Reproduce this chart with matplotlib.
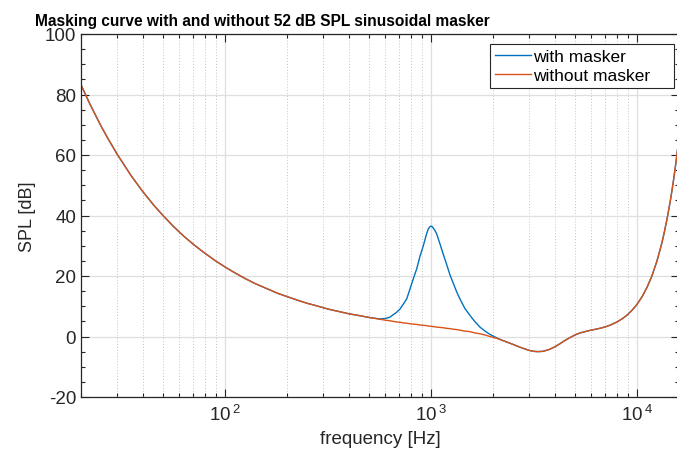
import matplotlib
matplotlib.use("Agg")
import matplotlib.pyplot as plt
from matplotlib.ticker import FixedLocator, FixedFormatter, MultipleLocator, NullFormatter

plt.rcParams["font.family"] = ["Liberation Sans", "DejaVu Sans"]
plt.rcParams["mathtext.fontset"] = "custom"
plt.rcParams["mathtext.rm"] = "Liberation Sans"
plt.rcParams["axes.unicode_minus"] = False

INK = "#262626"
BLUE = "#0072BD"
ORANGE = "#D95319"

# frequency grid [Hz]
freq_hz = [20, 22, 25, 27, 30, 35, 40, 45, 50, 56, 63, 71, 80, 90, 100, 112,
           125, 140, 160, 180, 200, 225, 250, 280, 315, 355, 400, 450, 500,
           565, 600, 632, 681, 708, 734, 762, 791, 820, 852, 885, 918, 950,
           970, 985, 1000, 1015, 1046, 1066, 1106, 1147, 1192, 1236, 1283,
           1332, 1383, 1460, 1545, 1630, 1729, 1830, 1934, 2084, 2200, 2350,
           2500, 2650, 2800, 3000, 3150, 3300, 3500, 3750, 4000, 4250, 4500,
           4750, 5000, 5300, 5600, 5900, 6300, 6700, 7100, 7500, 8000, 8500,
           9000, 9500, 10000, 10600, 11200, 11800, 12500, 13200, 13600, 14000,
           14500, 14800, 15000, 15300, 15500, 15800, 16000]

# threshold in quiet (without masker) [dB SPL]
spl_without = [83.2, 77.1, 69.6, 65.5, 60.2, 53.2, 47.8, 43.5, 40.0, 36.5,
               33.2, 30.2, 27.5, 25.0, 23.0, 21.0, 19.2, 17.5, 15.8, 14.3,
               13.2, 12.0, 11.0, 10.1, 9.1, 8.3, 7.5, 6.9, 6.3,
               5.7, 5.4, 5.2, 4.8, 4.7, 4.5, 4.4, 4.2, 4.1, 4.0, 3.8, 3.7, 3.6,
               3.5, 3.4, 3.4, 3.3, 3.2, 3.1, 3.0, 2.9, 2.7, 2.6, 2.4,
               2.3, 2.1, 1.8, 1.6, 1.2, 0.9, 0.5, 0.0, -0.6, -1.2, -1.9,
               -2.6, -3.3, -3.9, -4.6, -4.9, -5.0, -4.9, -4.3, -3.4, -2.3, -1.2,
               -0.3, 0.5, 1.2, 1.6, 2.0, 2.4, 2.8, 3.3, 3.9, 4.8, 5.9,
               7.2, 8.8, 10.6, 13.2, 16.3, 19.9, 24.9, 30.8, 34.7, 38.9,
               44.6, 48.4, 51.0, 55.2, 58.1, 62.7, 65.9]

# masked threshold (52 dB SPL sinusoidal masker at 1 kHz) [dB SPL]
spl_with = [83.2, 77.1, 69.6, 65.5, 60.2, 53.2, 47.8, 43.5, 40.0, 36.5,
            33.2, 30.2, 27.5, 25.0, 23.0, 21.0, 19.2, 17.5, 15.8, 14.3,
            13.2, 12.0, 11.0, 10.1, 9.1, 8.3, 7.5, 6.9, 6.3,
            5.8, 5.95, 6.4, 8.0, 9.1, 10.7, 12.4, 15.7, 19.0, 22.3, 26.6, 30.0, 33.7,
            35.5, 36.2, 36.5, 36.3, 35.0, 33.9, 30.6, 27.2, 23.8, 20.4, 17.6,
            14.8, 12.4, 9.3, 7.0, 5.0, 3.1, 1.8, 0.7, -0.45, -1.15, -1.9,
            -2.6, -3.3, -3.9, -4.6, -4.9, -5.0, -4.9, -4.3, -3.4, -2.3, -1.2,
            -0.3, 0.5, 1.2, 1.6, 2.0, 2.4, 2.8, 3.3, 3.9, 4.8, 5.9,
            7.2, 8.8, 10.6, 13.2, 16.3, 19.9, 24.9, 30.8, 34.7, 38.9,
            44.6, 48.4, 51.0, 55.2, 58.1, 62.7, 65.9]

assert len(freq_hz) == len(spl_without) == len(spl_with)

W, H = 677, 464
fig = plt.figure(figsize=(W / 100, H / 100), dpi=100)
ax = fig.add_axes([81 / W, 66 / H, 598 / W, 363 / H])

ax.semilogx(freq_hz, spl_with, color=BLUE, lw=1.0, label="with masker")
ax.semilogx(freq_hz, spl_without, color=ORANGE, lw=1.0, label="without masker")

ax.set_xlim(20, 16000)
ax.set_ylim(-20, 100)

ax.xaxis.set_major_locator(FixedLocator([100, 1000, 10000]))
ax.xaxis.set_major_formatter(FixedFormatter([r"$\mathregular{10^{\,2}}$",
                                             r"$\mathregular{10^{\,3}}$",
                                             r"$\mathregular{10^{\,4}}$"]))
minor_x = [m * 10 ** e for e in (1, 2, 3) for m in range(2, 10)]
ax.xaxis.set_minor_locator(FixedLocator(minor_x))
ax.xaxis.set_minor_formatter(NullFormatter())
ax.yaxis.set_major_locator(MultipleLocator(20))
ax.yaxis.set_minor_locator(MultipleLocator(5))

ax.set_axisbelow(True)
ax.grid(which="major", color="#dfdfdf", lw=0.9, ls="-")
ax.grid(which="minor", axis="x", color="#c4c4c4", lw=0.7, ls=(0, (1, 2)))

ax.tick_params(which="both", direction="in", top=True, right=True,
               colors=INK, labelsize=13.5)
ax.tick_params(which="major", length=6, width=0.8)
ax.tick_params(which="minor", length=3, width=0.8)
ax.tick_params(axis="x", pad=5)
for sp in ax.spines.values():
    sp.set_color(INK)
    sp.set_linewidth(0.9)

ax.set_xlabel("frequency [Hz]", fontsize=13.5, color=INK, labelpad=4)
ax.set_ylabel("SPL [dB]", fontsize=13, color=INK, labelpad=6)

# legend box spans x 490..674 px, top at 45 px
x0 = (490 - 81) / 598
x1 = (674 - 81) / 598
ytop = (398 - 45) / 363
leg = ax.legend(loc="upper left", bbox_to_anchor=(x0, 0, x1 - x0, ytop),
                mode="expand", borderaxespad=0, fancybox=False, framealpha=1,
                fontsize=12.5, handlelength=2.1, handletextpad=0.1,
                labelspacing=0.2, borderpad=0.28, edgecolor=INK)
leg.get_frame().set_linewidth(0.8)

fig.text(35 / W, 1 - 26 / H,
         "Masking curve with and without 52 dB SPL sinusoidal masker",
         fontweight="bold", fontsize=11.2, color="#000000",
         ha="left", va="baseline")

fig.savefig("out.png", dpi=100)
